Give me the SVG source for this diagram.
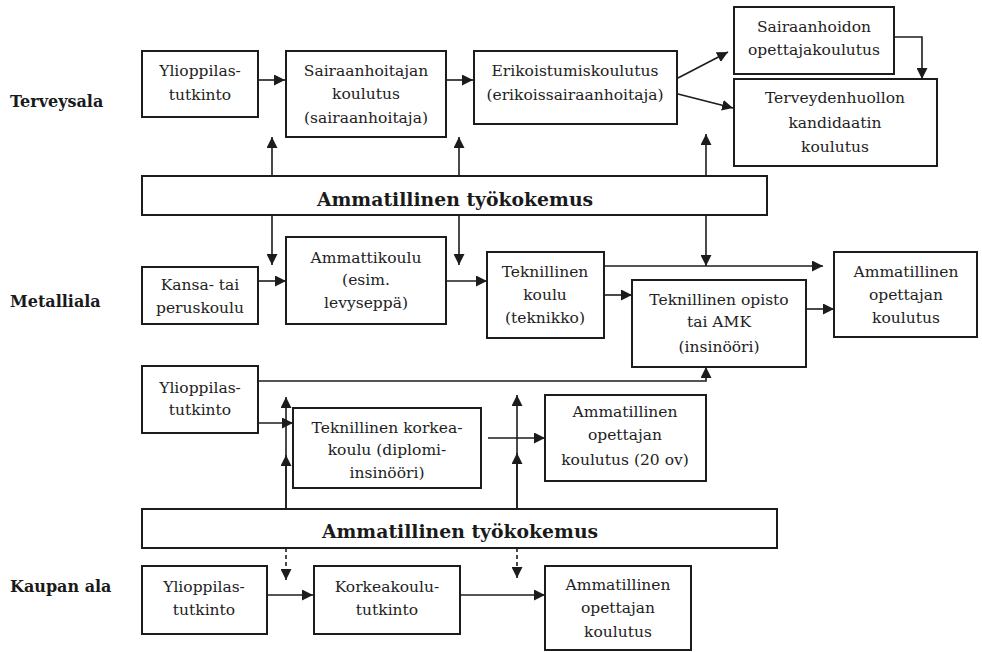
<svg xmlns="http://www.w3.org/2000/svg" width="982" height="652" viewBox="0 0 982 652">
<style>
.b{fill:#fff;stroke:#1c1c1c;stroke-width:2}
.t{font-family:"DejaVu Serif","Liberation Serif",serif;font-size:15.5px;fill:#222;text-anchor:middle}
.lab{font-family:"DejaVu Serif","Liberation Serif",serif;font-size:16px;font-weight:bold;fill:#1a1a1a}
.band{font-family:"DejaVu Serif","Liberation Serif",serif;font-size:18.8px;font-weight:bold;fill:#1a1a1a;text-anchor:middle}
.c{fill:none;stroke:#1c1c1c;stroke-width:1.6}
.d{stroke-dasharray:4 3}
</style>
<defs>
<marker id="ah" viewBox="0 0 10 10" refX="10" refY="5" markerWidth="11" markerHeight="11" markerUnits="userSpaceOnUse" orient="auto">
<path d="M0,0 L10,5 L0,10 z" fill="#1c1c1c"/>
</marker>
</defs>
<rect width="982" height="652" fill="#fff"/>

<text class="lab" x="10" y="107">Terveysala</text>
<text class="lab" x="10" y="307">Metalliala</text>
<text class="lab" x="10" y="592">Kaupan ala</text>

<g id="connectors">
<path class="c" marker-end="url(#ah)" d="M258,80 H285"/>
<path class="c" marker-end="url(#ah)" d="M446,80 H473"/>
<path class="c" marker-end="url(#ah)" d="M678,78 L728,52"/>
<path class="c" marker-end="url(#ah)" d="M678,94 L733,108"/>
<path class="c" marker-end="url(#ah)" d="M894,37 H922 V79"/>
<path class="c" marker-end="url(#ah)" d="M272,176 V137"/>
<path class="c" marker-end="url(#ah)" d="M459,176 V137"/>
<path class="c" marker-end="url(#ah)" d="M706,176 V134"/>
<path class="c" marker-end="url(#ah)" d="M272,215 V265"/>
<path class="c" marker-end="url(#ah)" d="M459,215 V265"/>
<path class="c" marker-end="url(#ah)" d="M706,215 V266"/>
<path class="c" marker-end="url(#ah)" d="M258,281 H286"/>
<path class="c" marker-end="url(#ah)" d="M446,281 H487"/>
<path class="c" marker-end="url(#ah)" d="M604,266 H823"/>
<path class="c" marker-end="url(#ah)" d="M604,295 H632"/>
<path class="c" marker-end="url(#ah)" d="M806,309 H834"/>
<path class="c" marker-end="url(#ah)" d="M258,381 H706 V367"/>
<path class="c" marker-end="url(#ah)" d="M258,423 H293"/>
<path class="c" marker-end="url(#ah)" d="M286,509 V397"/>
<path class="c" marker-end="url(#ah)" d="M286,509 V455"/>
<path class="c" marker-end="url(#ah)" d="M517,509 V395"/>
<path class="c" marker-end="url(#ah)" d="M517,509 V453"/>
<path class="c" marker-end="url(#ah)" d="M488,438 H545"/>
<path class="c d" marker-end="url(#ah)" d="M286,548 V580"/>
<path class="c d" marker-end="url(#ah)" d="M517,548 V578"/>
<path class="c" marker-end="url(#ah)" d="M267,595 H313"/>
<path class="c" marker-end="url(#ah)" d="M460,595 H545"/>
</g>

<g id="band1"><rect class="b" x="142" y="176" width="625" height="39"/><text class="band" x="455" y="206">Ammatillinen työkokemus</text></g>
<g id="band2"><rect class="b" x="142" y="509" width="635" height="39"/><text class="band" x="460" y="538">Ammatillinen työkokemus</text></g>

<g id="t-yo"><rect class="b" x="142" y="51" width="116" height="66"/><text class="t" x="200" y="76">Ylioppilas-</text><text class="t" x="200" y="100">tutkinto</text></g>
<g id="t-sh"><rect class="b" x="286" y="51" width="160" height="86"/><text class="t" x="366" y="76">Sairaanhoitajan</text><text class="t" x="366" y="99">koulutus</text><text class="t" x="366" y="123">(sairaanhoitaja)</text></g>
<g id="t-erik"><rect class="b" x="474" y="51" width="203" height="73"/><text class="t" x="575" y="76">Erikoistumiskoulutus</text><text class="t" x="575" y="100">(erikoissairaanhoitaja)</text></g>
<g id="t-ope"><rect class="b" x="734" y="7" width="160" height="67"/><text class="t" x="814" y="32">Sairaanhoidon</text><text class="t" x="814" y="55">opettajakoulutus</text></g>
<g id="t-kand"><rect class="b" x="734" y="79" width="203" height="87"/><text class="t" x="835" y="103">Terveydenhuollon</text><text class="t" x="835" y="128">kandidaatin</text><text class="t" x="835" y="152">koulutus</text></g>

<g id="m-kansa"><rect class="b" x="142" y="267" width="116" height="57"/><text class="t" x="200" y="290">Kansa- tai</text><text class="t" x="200" y="313">peruskoulu</text></g>
<g id="m-ammk"><rect class="b" x="286" y="237" width="160" height="87"/><text class="t" x="366" y="263">Ammattikoulu</text><text class="t" x="366" y="285">(esim.</text><text class="t" x="366" y="308">levyseppä)</text></g>
<g id="m-tekk"><rect class="b" x="487" y="252" width="117" height="86"/><text class="t" x="545" y="277">Teknillinen</text><text class="t" x="545" y="300">koulu</text><text class="t" x="545" y="323">(teknikko)</text></g>
<g id="m-opisto"><rect class="b" x="632" y="280" width="174" height="87"/><text class="t" x="719" y="305">Teknillinen opisto</text><text class="t" x="719" y="327">tai AMK</text><text class="t" x="719" y="352">(insinööri)</text></g>
<g id="m-ope1"><rect class="b" x="834" y="252" width="143" height="85"/><text class="t" x="906" y="277">Ammatillinen</text><text class="t" x="906" y="300">opettajan</text><text class="t" x="906" y="323">koulutus</text></g>
<g id="m-yo"><rect class="b" x="142" y="366" width="116" height="67"/><text class="t" x="200" y="393">Ylioppilas-</text><text class="t" x="200" y="415">tutkinto</text></g>
<g id="m-tkk"><rect class="b" x="293" y="408" width="188" height="80"/><text class="t" x="387" y="433">Teknillinen korkea-</text><text class="t" x="387" y="455">koulu (diplomi-</text><text class="t" x="387" y="478">insinööri)</text></g>
<g id="m-ope2"><rect class="b" x="545" y="395" width="161" height="86"/><text class="t" x="625" y="417">Ammatillinen</text><text class="t" x="625" y="440">opettajan</text><text class="t" x="625" y="465">koulutus (20 ov)</text></g>

<g id="k-yo"><rect class="b" x="142" y="566" width="125" height="68"/><text class="t" x="204" y="592">Ylioppilas-</text><text class="t" x="204" y="615">tutkinto</text></g>
<g id="k-kk"><rect class="b" x="314" y="566" width="146" height="68"/><text class="t" x="387" y="592">Korkeakoulu-</text><text class="t" x="387" y="615">tutkinto</text></g>
<g id="k-ope"><rect class="b" x="545" y="566" width="146" height="84"/><text class="t" x="618" y="590">Ammatillinen</text><text class="t" x="618" y="613">opettajan</text><text class="t" x="618" y="637">koulutus</text></g>
</svg>
